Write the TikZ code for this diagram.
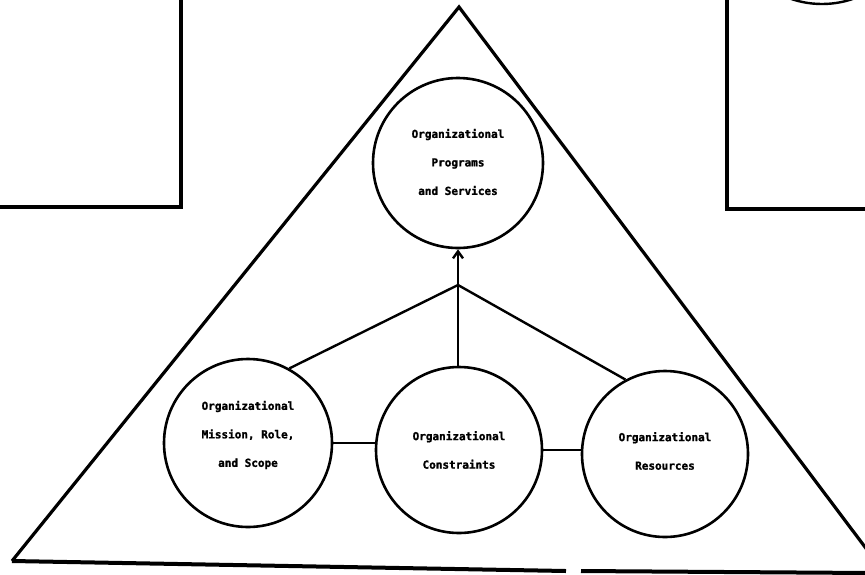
\documentclass[tikz,border=0pt]{standalone}
\usepackage{fontspec}
\newfontfamily\labelfont[FakeBold=1.5]{DejaVu Sans Mono Bold}
\usetikzlibrary{arrows.meta}
\begin{document}
\begin{tikzpicture}[x=1pt,y=-1pt,
  frame/.style={line width=3.2pt},
  edge/.style={line width=3.2pt},
  link/.style={line width=2.4pt},
  orb/.style={circle,draw,line width=2.6pt,minimum size=170pt,inner sep=0pt},
  caption/.style={font=\labelfont\fontsize{11}{28.5}\selectfont,align=center,inner sep=0pt}]
\useasboundingbox (0,0) rectangle (865,574);
\begin{scope}
\clip (0,0) rectangle (865,574);
% background boxes
\draw[frame] (181,-5) -- (181,207) -- (-5,207);
\draw[frame] (727,-5) -- (727,209) -- (870,209);
\draw[line width=2.4pt] (822,-92) circle (96);
% triangle
\coordinate (apex) at (459,7);
\coordinate (bl) at (12,561);
\coordinate (br) at (880,567);
\draw[edge,line join=miter] (br) -- (apex) -- (bl);
\draw[line width=4pt] (bl) -- (566,571);
\draw[line width=4pt] (581,571) -- (870,573);
\end{scope}
% circles
\node[orb] (top) at (458,163) {};
\node[orb,minimum size=168pt] (left) at (248,443) {};
\node[orb,minimum size=166pt] (mid) at (459,450) {};
\node[orb,minimum size=166pt] (right) at (665,454) {};
% labels
\node[caption] (ttop) at (458,162) {Organizational\\Programs\\and Services};
\node[caption] (tleft) at (248,435) {Organizational\\Mission, Role,\\and Scope};
\node[caption] (tmid) at (459,450) {Organizational\\Constraints};
\node[caption] (tright) at (665,451) {Organizational\\Resources};
% connectors
\coordinate (hub) at (458,285);
\draw[link,-{Straight Barb[length=7pt,width=10pt,line width=2.4pt]}] (hub) -- (top.south);
\draw[link] (hub) -- (mid.north -| hub);
\draw[link] (hub) -- (left.61);
\draw[link] (hub) -- (right.118);
\draw[link] (left.east) -- (left.east -| mid.west);
\draw[link] (mid.east) -- (mid.east -| right.west);
\end{tikzpicture}
\end{document}
